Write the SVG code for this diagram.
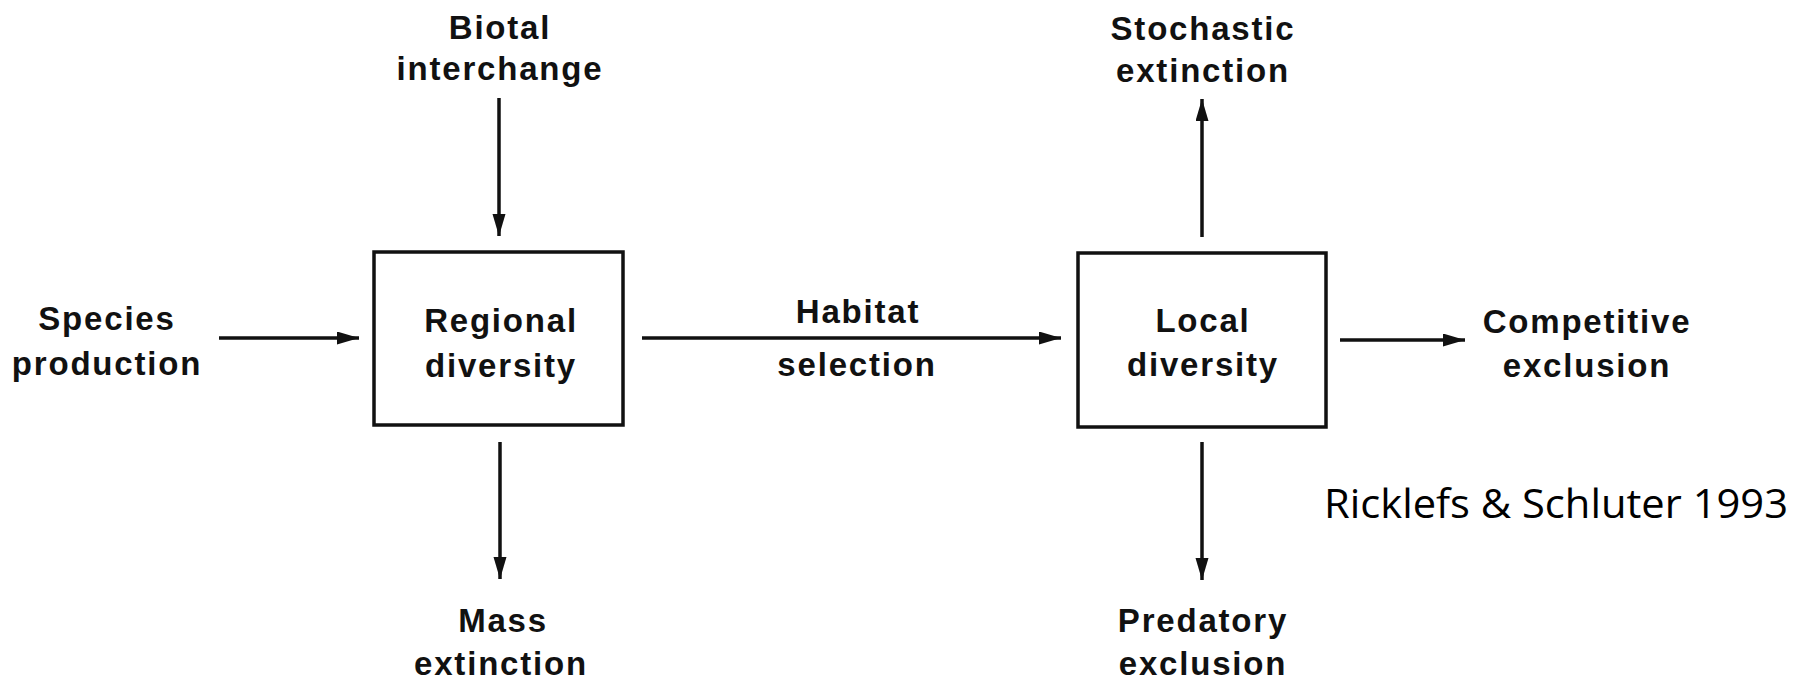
<svg xmlns="http://www.w3.org/2000/svg" width="1795" height="680" viewBox="0 0 1795 680">
  <style>
    .lbl { font-family: "Liberation Sans", Arial, sans-serif; font-weight: bold; font-size: 33px; letter-spacing: 1.8px; fill: #111; text-anchor: middle; }
    .box { fill: #fff; stroke: #111; stroke-width: 3.5; }
    .conn { stroke: #111; stroke-width: 3.5; fill: none; marker-end: url(#head); }
    .cite { font-family: "Open Sans", "Liberation Sans", sans-serif; font-size: 41px; fill: #000; }
  </style>
  <defs>
    <marker id="head" markerUnits="userSpaceOnUse" markerWidth="24" markerHeight="14" refX="22" refY="6.5" orient="auto">
      <path d="M0,0 L22,6.5 L0,13 z" fill="#111"/>
    </marker>
  </defs>
  <rect width="1795" height="680" fill="#fff"/>

  <g id="connectors">
    <line class="conn" x1="499" y1="98" x2="499" y2="236"/>
    <line class="conn" x1="219" y1="338" x2="359" y2="338"/>
    <line class="conn" x1="642" y1="338" x2="1061" y2="338"/>
    <line class="conn" x1="1202" y1="237" x2="1202" y2="99"/>
    <line class="conn" x1="1340" y1="340" x2="1465" y2="340"/>
    <line class="conn" x1="500" y1="442" x2="500" y2="579"/>
    <line class="conn" x1="1202" y1="442" x2="1202" y2="580"/>
  </g>

  <g id="regional-diversity">
    <rect class="box" x="374" y="252" width="249" height="173"/>
    <text class="lbl" x="501" y="332">Regional</text>
    <text class="lbl" x="501" y="377">diversity</text>
  </g>

  <g id="local-diversity">
    <rect class="box" x="1078" y="253" width="248" height="174"/>
    <text class="lbl" x="1203" y="332">Local</text>
    <text class="lbl" x="1203" y="376">diversity</text>
  </g>

  <g id="biotal-interchange">
    <text class="lbl" x="500" y="39">Biotal</text>
    <text class="lbl" x="500" y="80">interchange</text>
  </g>

  <g id="species-production">
    <text class="lbl" x="107" y="330">Species</text>
    <text class="lbl" x="107" y="375">production</text>
  </g>

  <g id="habitat-selection">
    <text class="lbl" x="858" y="323">Habitat</text>
    <text class="lbl" x="857" y="376">selection</text>
  </g>

  <g id="mass-extinction">
    <text class="lbl" x="503" y="632">Mass</text>
    <text class="lbl" x="501" y="675">extinction</text>
  </g>

  <g id="stochastic-extinction">
    <text class="lbl" x="1203" y="40">Stochastic</text>
    <text class="lbl" x="1203" y="82">extinction</text>
  </g>

  <g id="competitive-exclusion">
    <text class="lbl" x="1587" y="333">Competitive</text>
    <text class="lbl" x="1587" y="377">exclusion</text>
  </g>

  <g id="predatory-exclusion">
    <text class="lbl" x="1203" y="632">Predatory</text>
    <text class="lbl" x="1203" y="675">exclusion</text>
  </g>

  <g id="citation">
    <text class="cite" x="1324" y="518" textLength="464" lengthAdjust="spacingAndGlyphs">Ricklefs &amp; Schluter 1993</text>
  </g>
</svg>
